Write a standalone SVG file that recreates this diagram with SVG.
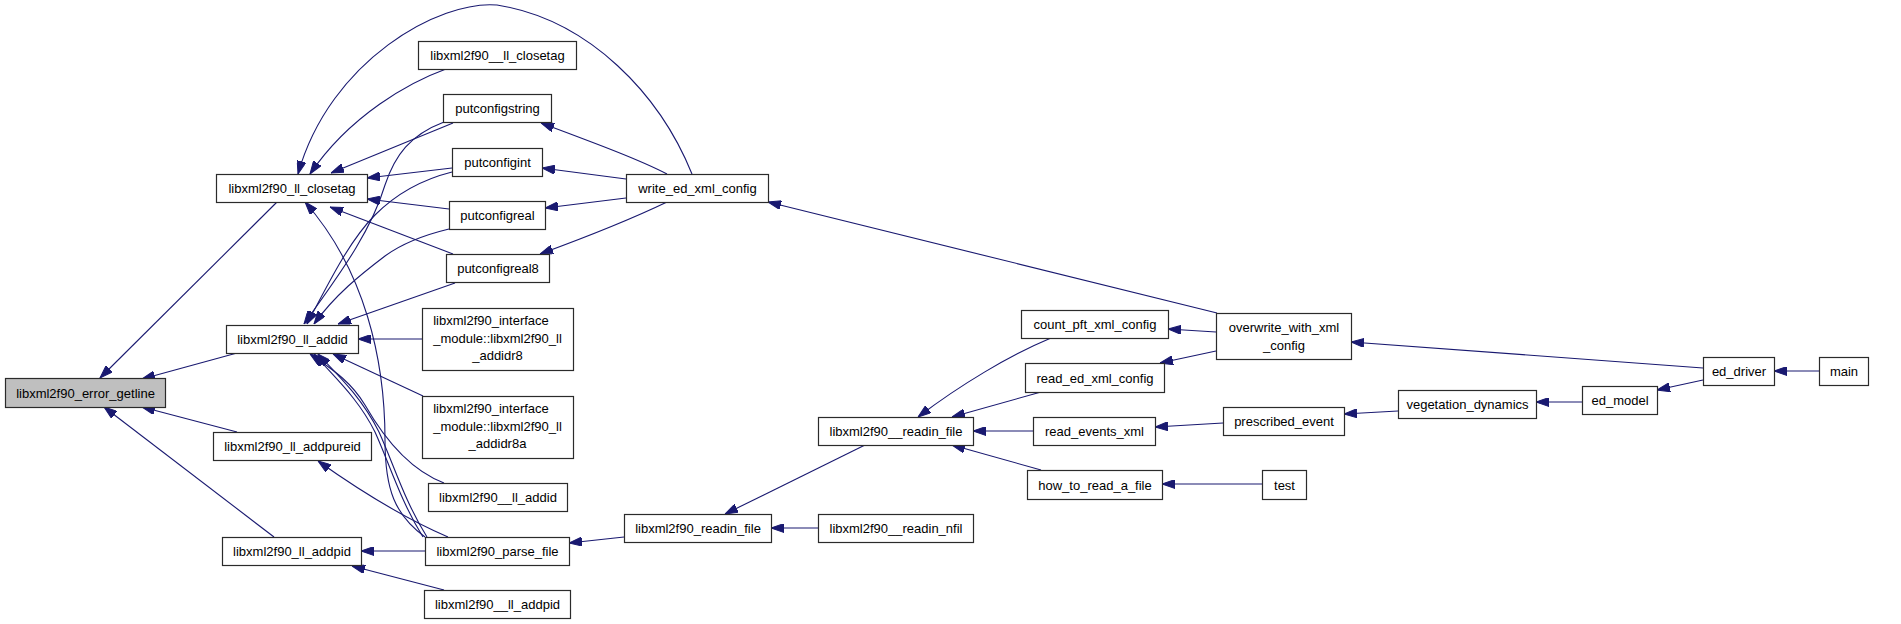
<svg xmlns="http://www.w3.org/2000/svg" width="1901" height="624" viewBox="0 0 1901 624">
<style>
.n rect{fill:#ffffff;stroke:#2b2b2b;stroke-width:1.2}
.n.g rect{fill:#bfbfbf}
.n text{font-family:"Liberation Sans",Arial,sans-serif;font-size:13px;fill:#000;text-anchor:middle}
#edges path{fill:none;stroke:#191970;stroke-width:1.1;marker-end:url(#arr)}
</style>
<defs>
<marker id="arr" viewBox="0 0 13 9" refX="13" refY="4.5" markerWidth="13" markerHeight="9" markerUnits="userSpaceOnUse" orient="auto">
<path d="M0,0 L13,4.5 L0,9 z" fill="#191970" stroke="#191970" stroke-width="1"/>
</marker>
</defs>
<rect width="1901" height="624" fill="#ffffff"/>
<g id="edges">
<path d="M277,202 L100,378"/>
<path d="M237,353 L142,379"/>
<path d="M237,432 L142,407"/>
<path d="M274,537 L104,407"/>
<path d="M446,69 C410,82 350,115 310,174"/>
<path d="M692,174 C660,95 590,20 497,5 C440,0 330,60 298,174"/>
<path d="M453,123 L331,173"/>
<path d="M452,168 L367,178"/>
<path d="M449,209 L367,199"/>
<path d="M453,254 L330,207"/>
<path d="M425,537 C395,515 385,490 385,440 C385,360 365,270 305,202"/>
<path d="M444,122 C410,135 395,155 385,185 C370,235 335,280 304,324"/>
<path d="M452,172 C420,180 395,195 375,215 C350,240 330,280 307,324"/>
<path d="M449,229 C420,236 400,245 385,256 C360,275 335,295 314,324"/>
<path d="M455,283 L338,324"/>
<path d="M422,339 L358,339"/>
<path d="M423,396 L333,354"/>
<path d="M444,483 C410,470 385,440 365,405 C350,380 330,368 310,354"/>
<path d="M423,537 C400,500 390,465 375,432 C358,398 335,378 314,354"/>
<path d="M427,537 C404,500 394,465 379,432 C362,398 339,376 318,354"/>
<path d="M448,537 C420,525 380,505 318,461"/>
<path d="M425,551 L361,551"/>
<path d="M444,590 L352,566"/>
<path d="M624,537 L569,543"/>
<path d="M865,445 L725,514"/>
<path d="M818,528 L771,528"/>
<path d="M1051,338 C1010,355 960,385 918,417"/>
<path d="M1041,392 L952,417"/>
<path d="M1033,431 L973,431"/>
<path d="M1041,470 L952,445"/>
<path d="M1223,423 L1155,427"/>
<path d="M1262,484 L1162,484"/>
<path d="M1216,332 L1168,329"/>
<path d="M1216,351 L1160,363"/>
<path d="M1217,313 L768,202"/>
<path d="M1703,368 L1351,342"/>
<path d="M1398,411 L1344,414"/>
<path d="M1582,402 L1536,402"/>
<path d="M1703,380 L1657,390"/>
<path d="M1819,371 L1774,371"/>
<path d="M667,174 C640,160 600,145 541,123"/>
<path d="M626,179 L542,168"/>
<path d="M626,198 L545,208"/>
<path d="M667,202 C640,215 600,232 540,254"/>
</g>
<g id="n_error" class="n g"><rect x="5.5" y="378.5" width="160" height="29"/><text x="85.5" y="397.5">libxml2f90_error_getline</text></g>
<g id="n_closetag" class="n"><rect x="216.5" y="174.5" width="151" height="28"/><text x="292" y="193">libxml2f90_ll_closetag</text></g>
<g id="n_addid" class="n"><rect x="226.5" y="325.5" width="132" height="28"/><text x="292.5" y="344">libxml2f90_ll_addid</text></g>
<g id="n_addpureid" class="n"><rect x="213.5" y="432.5" width="158" height="28"/><text x="292.5" y="451">libxml2f90_ll_addpureid</text></g>
<g id="n_addpid" class="n"><rect x="222.5" y="537.5" width="139" height="28"/><text x="292" y="556">libxml2f90_ll_addpid</text></g>
<g id="n_uclosetag" class="n"><rect x="418.5" y="41.5" width="158" height="28"/><text x="497.5" y="60">libxml2f90__ll_closetag</text></g>
<g id="n_putconfigstring" class="n"><rect x="443.5" y="94.5" width="108" height="28"/><text x="497.5" y="113">putconfigstring</text></g>
<g id="n_putconfigint" class="n"><rect x="452.5" y="148.5" width="90" height="28"/><text x="497.5" y="167">putconfigint</text></g>
<g id="n_putconfigreal" class="n"><rect x="449.5" y="201.5" width="96" height="28"/><text x="497.5" y="220">putconfigreal</text></g>
<g id="n_putconfigreal8" class="n"><rect x="446.5" y="254.5" width="103" height="28"/><text x="498" y="273">putconfigreal8</text></g>
<g id="n_addidr8" class="n"><rect x="422.5" y="308.5" width="151" height="62"/><text x="491" y="325">libxml2f90_interface</text><text x="497.5" y="342.5">_module::libxml2f90_ll</text><text x="497.5" y="360">_addidr8</text></g>
<g id="n_addidr8a" class="n"><rect x="422.5" y="396.5" width="151" height="62"/><text x="491" y="413">libxml2f90_interface</text><text x="497.5" y="430.5">_module::libxml2f90_ll</text><text x="497.5" y="448">_addidr8a</text></g>
<g id="n_uaddid" class="n"><rect x="428.5" y="483.5" width="139" height="28"/><text x="498" y="502">libxml2f90__ll_addid</text></g>
<g id="n_parse_file" class="n"><rect x="425.5" y="537.5" width="144" height="28"/><text x="497.5" y="556">libxml2f90_parse_file</text></g>
<g id="n_uaddpid" class="n"><rect x="424.5" y="590.5" width="146" height="28"/><text x="497.5" y="609">libxml2f90__ll_addpid</text></g>
<g id="n_write_ed" class="n"><rect x="626.5" y="174.5" width="142" height="28"/><text x="697.5" y="193">write_ed_xml_config</text></g>
<g id="n_readin_file" class="n"><rect x="624.5" y="514.5" width="147" height="28"/><text x="698" y="533">libxml2f90_readin_file</text></g>
<g id="n_ureadin_file" class="n"><rect x="818.5" y="417.5" width="155" height="28"/><text x="896" y="436">libxml2f90__readin_file</text></g>
<g id="n_readin_nfil" class="n"><rect x="818.5" y="514.5" width="155" height="28"/><text x="896" y="533">libxml2f90__readin_nfil</text></g>
<g id="n_count_pft" class="n"><rect x="1021.5" y="310.5" width="147" height="28"/><text x="1095" y="329">count_pft_xml_config</text></g>
<g id="n_read_ed" class="n"><rect x="1025.5" y="363.5" width="139" height="29"/><text x="1095" y="382.5">read_ed_xml_config</text></g>
<g id="n_read_events" class="n"><rect x="1033.5" y="417.5" width="122" height="28"/><text x="1094.5" y="436">read_events_xml</text></g>
<g id="n_how_to" class="n"><rect x="1027.5" y="470.5" width="135" height="29"/><text x="1095" y="489.5">how_to_read_a_file</text></g>
<g id="n_overwrite" class="n"><rect x="1216.5" y="313.5" width="135" height="46"/><text x="1284" y="332">overwrite_with_xml</text><text x="1284" y="349.5">_config</text></g>
<g id="n_prescribed" class="n"><rect x="1223.5" y="407.5" width="121" height="28"/><text x="1284" y="426">prescribed_event</text></g>
<g id="n_test" class="n"><rect x="1262.5" y="470.5" width="44" height="29"/><text x="1284.5" y="489.5">test</text></g>
<g id="n_vegetation" class="n"><rect x="1398.5" y="390.5" width="138" height="28"/><text x="1467.5" y="409">vegetation_dynamics</text></g>
<g id="n_ed_model" class="n"><rect x="1582.5" y="386.5" width="75" height="28"/><text x="1620" y="405">ed_model</text></g>
<g id="n_ed_driver" class="n"><rect x="1703.5" y="357.5" width="71" height="28"/><text x="1739" y="376">ed_driver</text></g>
<g id="n_main" class="n"><rect x="1819.5" y="357.5" width="49" height="28"/><text x="1844" y="376">main</text></g>
</svg>
